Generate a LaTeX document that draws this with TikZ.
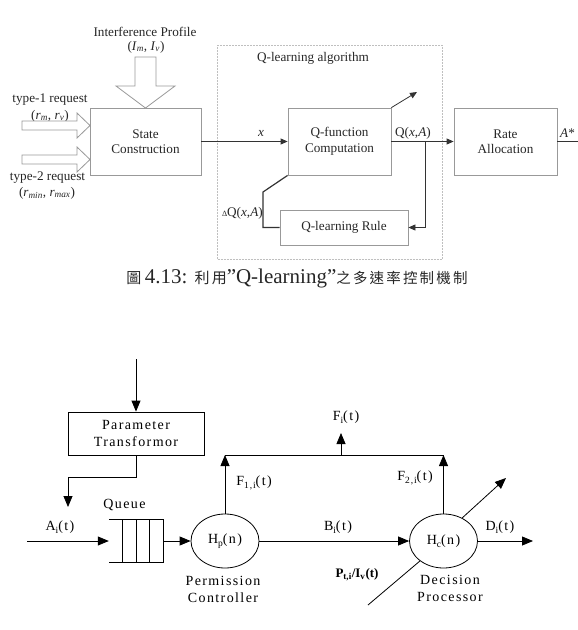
\documentclass[tikz,border=0pt]{standalone}
\usepackage{fontspec}
\setmainfont{Liberation Serif}
\newfontfamily\cjk{Noto Sans CJK TC}
\newfontfamily\cjksp[LetterSpace=15]{Noto Sans CJK TC}
\newfontfamily\spc[LetterSpace=10]{Liberation Serif}
\usetikzlibrary{arrows.meta,shapes.geometric}
\newcommand\toptext{\fontsize{13.2}{15.5}\selectfont}
\newcommand\bottext{\fontsize{14}{16.5}\spc}
\newcommand\bsub[1]{\raisebox{-3.5pt}{\fontsize{9.5}{10}\selectfont #1}}
\tikzset{
  topbox/.style={draw=black!40, line width=0.8pt, inner sep=0pt, align=center, font=\toptext, text=black!85},
  topline/.style={draw=black!80, line width=0.8pt},
  tarr/.style={topline, -{Triangle[length=7pt,width=6pt]}},
  hollow/.style={draw=black!40, line width=0.8pt, fill=white},
  toplabel/.style={font=\toptext, text=black!85, inner sep=0pt},
  botbox/.style={draw, line width=0.8pt, inner sep=0pt, align=center, font=\bottext},
  bline/.style={line width=0.8pt},
  barr/.style={bline, -{Triangle[length=11pt,width=9pt]}},
  blabel/.style={font=\bottext, inner sep=0pt, align=center},
  bell/.style={draw, ellipse, line width=0.8pt, inner sep=0pt, minimum width=68pt, minimum height=54pt, font=\bottext}
}
\begin{document}
\begin{tikzpicture}[x=1pt,y=-1pt]
\useasboundingbox (0,0) rectangle (578,630);
% ---------- top diagram ----------
\draw[densely dotted, black!25, line width=0.5pt] (217,45) rectangle (442,259);
\node[toplabel] (qlab) at (313,58) {Q-learning algorithm};
\node[toplabel] (ip) at (145,32) {Interference Profile};
\node[toplabel] (ipv) at (146,47) {(\textit{I}\textsubscript{\textit{m}}, \textit{I}\textsubscript{\textit{v}})};
\node[toplabel] (t1) at (50,100) {type-1 request};
\node[toplabel] (t1v) at (50,116) {(\textit{r}\textsubscript{\textit{m}}, \textit{r}\textsubscript{\textit{v}})};
\node[toplabel] (t2) at (47.5,178) {type-2 request};
\node[toplabel] (t2v) at (47,193) {(\textit{r}\textsubscript{\textit{min}}, \textit{r}\textsubscript{\textit{max}})};

\node[topbox, minimum width=111pt, minimum height=67pt] (sc) at (145.5,141.5) {State\\Construction};
\node[topbox, minimum width=103pt, minimum height=67pt] (qf) at (339.5,141.5) {Q-function\\Computation};
\node[topbox, minimum width=103pt, minimum height=67pt] (ra) at (505.5,141.5) {Rate\\Allocation};
\node[topbox, minimum width=128pt, minimum height=35pt] (rule) at (344,227.5) {Q-learning Rule};

\draw[hollow] (135,57) -- (156,57) -- (156,86) -- (175,86) -- (145.5,108) -- (116,86) -- (135,86) -- cycle;
\draw[hollow] (22,121) -- (77,121) -- (77,113) -- (90,125.5) -- (77,138) -- (77,130) -- (22,130) -- cycle;
\draw[hollow] (22,155) -- (77,155) -- (77,147) -- (90,159.5) -- (77,172) -- (77,164) -- (22,164) -- cycle;

\draw[tarr] (sc.east) -- (qf.west);
\node[toplabel] (xlab) at (261,133) {\textit{x}};
\draw[tarr] (qf.east) -- (ra.west);
\node[toplabel] (qxa) at (413,133) {Q(\textit{x},\textit{A})};
\coordinate (br) at (425,141.5);
\draw[tarr] (br) |- (rule.east);
\coordinate (fb) at (263,192);
\draw[topline, line width=1.2pt] (rule.west) -| (fb) -- (qf.south west);
\node[toplabel, anchor=east] (dq) at (263,213) {{\fontsize{8}{9}\selectfont Δ}Q(\textit{x},\textit{A})};
\coordinate (qout) at (417,92);
\draw[tarr] (qf.north east) -- (qout);
\coordinate (aout) at (578,141.5);
\draw[topline] (ra.east) -- (aout);
\node[toplabel, anchor=west] (astar) at (560,133) {\textit{A}*};

\node[font=\fontsize{21}{24}\selectfont, inner sep=0pt, text=black!85] (cap) at (297,278)
  {{\cjk\fontsize{15}{18}\selectfont 圖}\,4.13:\hspace{7pt}{\cjksp\fontsize{15}{18}\selectfont 利用}”Q-learning”{\cjksp\fontsize{14.5}{18}\selectfont 之多速率控制機制}};

% ---------- bottom diagram ----------
\coordinate (ptin) at (136,359);
\node[botbox, minimum width=136pt, minimum height=43pt] (pt) at (136,433.5) {Parameter\\Transformor};
\draw[barr] (ptin) -- (pt.north);
\coordinate (pb) at (68,477);
\coordinate (qa) at (68,507);
\draw[barr] (pt.south) |- (pb) -- (qa);

\node[inner sep=0pt, minimum width=54pt, minimum height=43pt] (q) at (136,541) {};
\draw[bline] (q.north west) -- (q.north east) -- (q.south east) -- (q.south west);
\draw[bline] (122,519.5) -- (122,562.5) (136,519.5) -- (136,562.5) (149,519.5) -- (149,562.5);
\node[blabel] (qlabel) at (124.5,505) {Queue};

\coordinate (ain) at (27,541);
\draw[barr] (ain) -- (q.west);
\node[blabel] (ai) at (60,527) {A\bsub{i}(t)};

\node[bell] (hp) at (225,541) {H\bsub{p}(n)};
\node[bell] (hc) at (443.5,541) {H\bsub{c}(n)};
\draw[barr] (q.east) -- (hp.west);
\draw[barr] (hp.east) -- (hc.west);
\node[blabel] (bi) at (338,527) {B\bsub{i}(t)};

\coordinate (f1) at (225,455);
\coordinate (f2) at (443.5,455);
\draw[barr] (hp.north) -- (f1);
\draw[bline] (f1) -- (f2);
\draw[barr] (hc.north) -- (f2);
\coordinate (fa) at (341,455);
\coordinate (fo) at (341,433);
\draw[barr] (fa) -- (fo);
\node[blabel] (f1l) at (254,483) {F\bsub{1,i}(t)};
\node[blabel] (f2l) at (415,478) {F\bsub{2,i}(t)};
\node[blabel] (fil) at (346,417) {F\bsub{i}(t)};

\coordinate (dout) at (533,541);
\draw[barr] (hc.east) -- (dout);
\node[blabel] (di) at (500,527) {D\bsub{i}(t)};
\coordinate (hcout) at (506,478);
\draw[barr] (hc.51) -- (hcout);
\coordinate (pin) at (368,605);
\draw[bline] (pin) -- (hc);
\node[font=\fontsize{13}{15}\selectfont\bfseries, inner sep=0pt] (pl) at (357,575) {P\textsubscript{t,i}/I\textsubscript{v}(t)};

\node[blabel] (perm) at (223,589.5) {Permission\\Controller};
\node[blabel] (dec) at (450,588.5) {Decision\\Processor};
\end{tikzpicture}
\end{document}
